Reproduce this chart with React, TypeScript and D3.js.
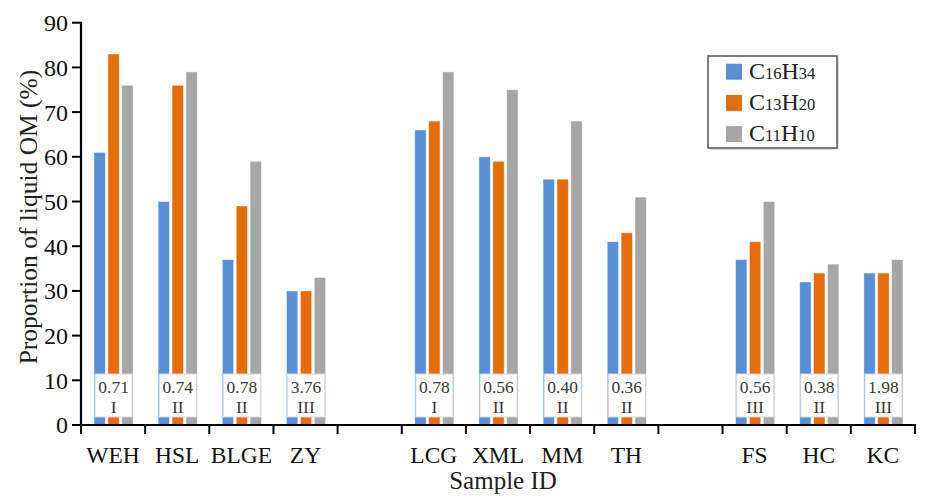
import React from "react";
import * as d3 from "d3";

const categories = ["WEH", "HSL", "BLGE", "ZY", "", "LCG", "XML", "MM", "TH", "", "FS", "HC", "KC"];
const c16h34 = [61, 50, 37, 30, null, 66, 60, 55, 41, null, 37, 32, 34];
const c13h20 = [83, 76, 49, 30, null, 68, 59, 55, 43, null, 41, 34, 34];
const c11h10 = [76, 79, 59, 33, null, 79, 75, 68, 51, null, 50, 36, 37];
const ratioLabels = ["0.71", "0.74", "0.78", "3.76", "", "0.78", "0.56", "0.40", "0.36", "", "0.56", "0.38", "1.98"];
const typeLabels = ["I", "II", "II", "III", "", "I", "II", "II", "II", "", "III", "II", "III"];
const yTicks = [0, 10, 20, 30, 40, 50, 60, 70, 80, 90];

const seriesNames = [
  { base: "C", n1: "16", h: "H", n2: "34" },
  { base: "C", n1: "13", h: "H", n2: "20" },
  { base: "C", n1: "11", h: "H", n2: "10" },
];
const seriesValues = [c16h34, c13h20, c11h10];
const colors = ["#5A8ED5", "#E46C0B", "#A6A6A6"];

const FONT = "'Liberation Serif', 'Times New Roman', serif";

export default function App() {
  const left = 81;
  const right = 915;
  const top = 22.7;
  const bottom = 425;

  const idx = categories.map((_, i) => String(i));
  const x0 = d3.scaleBand<string>().domain(idx).range([left, right]).padding(0);
  const bw = x0.bandwidth();
  const x1 = d3
    .scaleBand<string>()
    .domain(["0", "1", "2"])
    .range([13, bw - 12])
    .paddingInner(0.18)
    .paddingOuter(0);
  const y = d3.scaleLinear().domain([0, 90]).range([bottom, top]);

  const boundaries = idx.map((k) => x0(k) as number).concat([right]);

  return (
    <div style={{ position: "absolute", left: 0, top: 0 }}>
      <svg width={946} height={499} style={{ display: "block", background: "#fff" }}>
        <rect x={0} y={0} width={946} height={499} fill="#fff" />
        {/* bars */}
        {idx.map((k, i) => (
          <g key={k} transform={`translate(${x0(k)},0)`}>
            {seriesValues.map((vals, s) => {
              const v = vals[i];
              if (v == null) return null;
              return (
                <rect
                  key={s}
                  x={x1(String(s))}
                  y={y(v)}
                  width={x1.bandwidth()}
                  height={y(0) - y(v)}
                  fill={colors[s]}
                  stroke="#ffffff"
                  strokeOpacity={0.6}
                  strokeWidth={0.8}
                />
              );
            })}
            {ratioLabels[i] !== "" && (
              <g>
                <rect
                  x={bw / 2 - 18}
                  y={y(11.4)}
                  width={37}
                  height={y(1.8) - y(11.4)}
                  fill="#ffffff"
                  stroke="#d8dde6"
                  strokeWidth={1}
                />
                <text
                  x={bw / 2 + 0.5}
                  y={y(11.4) + 19}
                  textAnchor="middle"
                  fontFamily={FONT}
                  fontSize={17.5}
                  fill="#3a3a3a"
                >
                  {ratioLabels[i]}
                </text>
                <text
                  x={bw / 2 + 0.5}
                  y={y(11.4) + 39}
                  textAnchor="middle"
                  fontFamily={FONT}
                  fontSize={17.5}
                  fill="#3a3a3a"
                >
                  {typeLabels[i]}
                </text>
              </g>
            )}
          </g>
        ))}

        {/* y axis */}
        <line x1={left} x2={left} y1={top - 1} y2={bottom + 1} stroke="#000" strokeWidth={2.2} />
        {yTicks.map((t) => (
          <g key={t}>
            <line x1={left - 9} x2={left} y1={y(t)} y2={y(t)} stroke="#000" strokeWidth={2} />
            <text
              x={left - 13}
              y={y(t)}
              dy="0.35em"
              textAnchor="end"
              fontFamily={FONT}
              fontSize={24}
              fill="#111"
            >
              {t}
            </text>
          </g>
        ))}

        {/* x axis */}
        <line x1={left - 1} x2={right + 1} y1={bottom} y2={bottom} stroke="#000" strokeWidth={2.2} />
        {boundaries.map((bx, i) => (
          <line key={i} x1={bx} x2={bx} y1={bottom} y2={bottom + 9} stroke="#000" strokeWidth={2} />
        ))}
        {idx.map((k, i) => (
          <text
            key={k}
            x={(x0(k) as number) + bw / 2}
            y={463}
            textAnchor="middle"
            fontFamily={FONT}
            fontSize={23.5}
            fill="#111"
          >
            {categories[i]}
          </text>
        ))}

        {/* axis titles */}
        <text
          x={503}
          y={489}
          textAnchor="middle"
          fontFamily={FONT}
          fontSize={25}
          fill="#222"
        >
          Sample ID
        </text>
        <text
          transform={`translate(37,217) rotate(-90)`}
          textAnchor="middle"
          fontFamily={FONT}
          fontSize={25.5}
          fill="#222"
        >
          Proportion of liquid OM (%)
        </text>

        {/* legend */}
        <g>
          <rect x={710} y={58} width={129} height={92} fill="#c8c8c8" opacity={0.6} />
          <rect x={708} y={56} width={129} height={92} fill="#fff" stroke="#555" strokeWidth={1.5} />
          {seriesNames.map((s, i) => {
            const cy = 71.7 + i * 31.2;
            return (
              <g key={i}>
                <rect x={726} y={cy - 8} width={16} height={16} fill={colors[i]} />
                <text x={749} y={cy + 7} fontFamily={FONT} fontSize={24} fill="#222">
                  <tspan>{s.base}</tspan>
                  <tspan fontSize={16.5}>{s.n1}</tspan>
                  <tspan>{s.h}</tspan>
                  <tspan fontSize={16.5}>{s.n2}</tspan>
                </text>
              </g>
            );
          })}
        </g>
      </svg>
    </div>
  );
}
